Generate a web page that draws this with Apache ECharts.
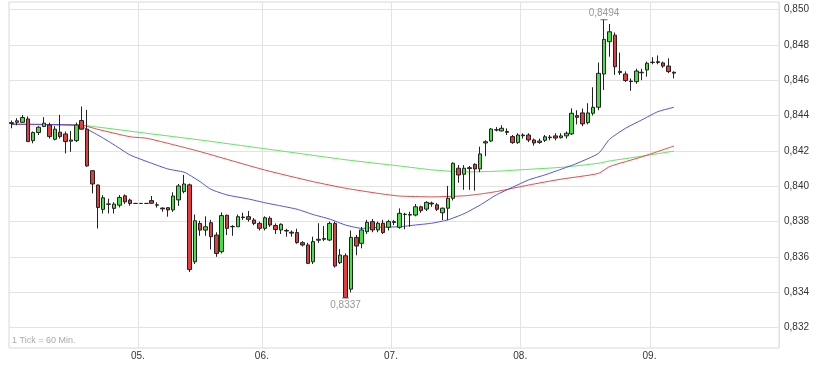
<!DOCTYPE html>
<html><head><meta charset="utf-8">
<script src="https://cdn.jsdelivr.net/npm/echarts@6/dist/echarts.min.js"></script>
<style>html,body{margin:0;padding:0;background:#fff}#c{width:818px;height:366px}</style>
</head><body><div id="c"></div>
<script>
const days = ['04.','05.','06.','07.','08.','09.'];
const slotsPerDay = [24,23,24,24,24,24];

const open = [
0.84355,0.84362,0.84362,0.84381,0.84258,0.84304,0.84338,0.84347,0.84266,0.84306,
0.84296,0.84255,0.84258,0.84372,0.84323,0.84088,0.84007,0.83869,0.83900,0.83875,
0.83893,0.83946,0.83922,0.83903,0.83903,0.83903,0.83919,0.83895,0.83877,0.83879,
0.83866,0.83923,0.83970,0.84008,0.83573,0.83790,0.83752,0.83794,0.83724,0.83630,
0.83836,0.83771,0.83771,0.83823,0.83828,0.83809,0.83790,0.83762,0.83819,0.83778,
0.83753,0.83750,0.83740,0.83738,0.83681,0.83668,0.83573,0.83695,0.83700,0.83696,
0.83790,0.83568,0.83607,0.83418,0.83711,0.83677,0.83743,0.83800,0.83753,0.83791,
0.83768,0.83795,0.83768,0.83842,0.83837,0.83837,0.83884,0.83871,0.83905,0.83895,
0.83850,0.83876,0.83932,0.84102,0.84068,0.84105,0.84124,0.84098,0.84245,0.84256,
0.84318,0.84313,0.84310,0.84281,0.84247,0.84290,0.84290,0.84262,0.84248,0.84260,
0.84278,0.84285,0.84275,0.84285,0.84296,0.84400,0.84415,0.84360,0.84413,0.84447,
0.84635,0.84818,0.84855,0.84650,0.84635,0.84595,0.84592,0.84645,0.84658,0.84700,
0.84700,0.84698,0.84680,0.84645
];
const close = [
0.84360,0.84370,0.84389,0.84253,0.84304,0.84334,0.84357,0.84281,0.84323,0.84281,
0.84253,0.84262,0.84347,0.84323,0.84115,0.84013,0.83880,0.83935,0.83898,0.83899,
0.83937,0.83912,0.83903,0.83903,0.83903,0.83903,0.83904,0.83893,0.83872,0.83866,
0.83945,0.84002,0.84013,0.83529,0.83805,0.83752,0.83771,0.83715,0.83620,0.83834,
0.83762,0.83773,0.83828,0.83826,0.83813,0.83790,0.83762,0.83822,0.83781,0.83755,
0.83785,0.83747,0.83735,0.83681,0.83668,0.83564,0.83687,0.83700,0.83705,0.83790,
0.83549,0.83611,0.83371,0.83711,0.83662,0.83753,0.83796,0.83753,0.83791,0.83738,
0.83800,0.83800,0.83847,0.83840,0.83840,0.83884,0.83862,0.83909,0.83900,0.83870,
0.83876,0.83932,0.84130,0.84064,0.84102,0.84100,0.84098,0.84183,0.84252,0.84324,
0.84320,0.84328,0.84305,0.84247,0.84290,0.84286,0.84262,0.84245,0.84256,0.84280,
0.84275,0.84273,0.84285,0.84300,0.84413,0.84390,0.84353,0.84415,0.84447,0.84639,
0.84831,0.84874,0.84676,0.84643,0.84598,0.84592,0.84652,0.84642,0.84696,0.84702,
0.84705,0.84680,0.84649,0.84640
];
const low = [
0.84328,0.84345,0.84360,0.84250,0.84243,0.84290,0.84335,0.84270,0.84260,0.84270,
0.84186,0.84195,0.84250,0.84320,0.84110,0.83960,0.83761,0.83846,0.83846,0.83846,
0.83880,0.83900,0.83890,0.83903,0.83903,0.83903,0.83900,0.83879,0.83856,0.83828,
0.83855,0.83889,0.83960,0.83515,0.83560,0.83720,0.83720,0.83643,0.83601,0.83620,
0.83724,0.83720,0.83770,0.83810,0.83800,0.83780,0.83750,0.83750,0.83770,0.83730,
0.83730,0.83715,0.83715,0.83675,0.83660,0.83560,0.83560,0.83680,0.83690,0.83690,
0.83540,0.83560,0.83368,0.83400,0.83610,0.83649,0.83730,0.83740,0.83740,0.83730,
0.83750,0.83780,0.83760,0.83757,0.83771,0.83830,0.83850,0.83860,0.83884,0.83860,
0.83809,0.83808,0.83920,0.84020,0.83980,0.83980,0.83975,0.84080,0.84170,0.84250,
0.84310,0.84310,0.84290,0.84240,0.84240,0.84270,0.84250,0.84230,0.84240,0.84250,
0.84260,0.84260,0.84270,0.84270,0.84290,0.84350,0.84340,0.84350,0.84400,0.84430,
0.84545,0.84733,0.84630,0.84630,0.84590,0.84540,0.84580,0.84600,0.84620,0.84690,
0.84690,0.84670,0.84640,0.84610
];
const high = [
0.84372,0.84385,0.84404,0.84395,0.84310,0.84340,0.84391,0.84360,0.84340,0.84404,
0.84310,0.84313,0.84360,0.84451,0.84432,0.84090,0.84010,0.83950,0.83930,0.83910,
0.83950,0.83954,0.83930,0.83903,0.83903,0.83903,0.83945,0.83909,0.83880,0.83880,
0.83966,0.84013,0.84064,0.84015,0.83840,0.83805,0.83830,0.83810,0.83740,0.83852,
0.83840,0.83780,0.83840,0.83850,0.83860,0.83820,0.83800,0.83830,0.83830,0.83790,
0.83790,0.83760,0.83750,0.83760,0.83690,0.83680,0.83715,0.83791,0.83775,0.83800,
0.83800,0.83645,0.83620,0.83750,0.83725,0.83770,0.83810,0.83815,0.83800,0.83810,
0.83810,0.83810,0.83875,0.83850,0.83856,0.83900,0.83890,0.83915,0.83913,0.83905,
0.83880,0.84002,0.84135,0.84120,0.84120,0.84115,0.84130,0.84224,0.84260,0.84330,
0.84335,0.84345,0.84327,0.84290,0.84300,0.84300,0.84300,0.84270,0.84270,0.84290,
0.84290,0.84300,0.84300,0.84310,0.84441,0.84430,0.84440,0.84470,0.84560,0.84700,
0.84942,0.84918,0.84870,0.84756,0.84650,0.84610,0.84665,0.84665,0.84705,0.84730,
0.84740,0.84705,0.84724,0.84650
];

// moving averages: [slot, value]
const maBlue = [[0,0.84352],[11,0.84347],[13,0.84337],[16,0.84290],[19,0.84235],[22,0.84177],[26,0.84130],[29,0.84098],[32,0.84080],[33,0.84064],[35,0.84026],[37,0.83983],[40,0.83951],[44,0.83928],[47,0.83907],[50,0.83889],[53,0.83870],[56,0.83840],[59,0.83815],[62,0.83781],[65,0.83762],[68,0.83768],[72,0.83771],[75,0.83781],[78,0.83791],[81,0.83810],[84,0.83845],[87,0.83894],[90,0.83951],[93,0.83994],[96,0.84036],[99,0.84064],[102,0.84096],[105,0.84130],[109,0.84187],[111,0.84265],[114,0.84328],[117,0.84375],[120,0.84422],[123,0.84447]];
const maRed = [[0,0.84350],[13,0.84345],[16,0.84322],[22,0.84280],[25,0.84272],[29,0.84243],[32,0.84220],[35,0.84196],[47,0.84092],[56,0.84026],[62,0.83989],[68,0.83960],[72,0.83945],[78,0.83940],[84,0.83946],[87,0.83956],[90,0.83970],[96,0.84007],[102,0.84040],[109,0.84073],[111,0.84111],[117,0.84166],[123,0.84228]];
const maGreen = [[0,0.84350],[13,0.84345],[16,0.84335],[25,0.84300],[35,0.84262],[50,0.84200],[62,0.84150],[72,0.84115],[78,0.84093],[84,0.84081],[90,0.84085],[96,0.84096],[102,0.84107],[109,0.84130],[111,0.84143],[117,0.84170],[123,0.84199]];

const yMin = 0.832, yMax = 0.850, yStep = 0.002;

// build categories (one per hourly slot)
const categories = [];
const dayStarts = [];
days.forEach((d, di) => {
  dayStarts.push(categories.length);
  for (let h = 0; h < slotsPerDay[di]; h++) categories.push(d + ' ' + h + ':00');
});
const N = categories.length;
const dayOf = {};
dayStarts.forEach((s, i) => { dayOf[s] = days[i]; });

const candles = categories.map((c, i) =>
  i < open.length ? [open[i], close[i], low[i], high[i]] : '-');

const shift = arr => arr.map(p => [p[0] + 0.5, p[1]]);
const fmt = (v, n) => v.toFixed(n).replace('.', ',');

const chart = echarts.init(document.getElementById('c'), null, {renderer: 'canvas'});
const FONT = 'Liberation Sans, Arial, sans-serif';
chart.setOption({
  animation: false,
  backgroundColor: '#fff',
  grid: [
    {left: 9, right: 39, top: 9.5, bottom: 38.3},
    {left: 9, right: 39, top: 2, bottom: 18, show: true, borderColor: '#d9d9d9', borderWidth: 1, backgroundColor: 'transparent'}
  ],
  xAxis: [
    {type: 'category', gridIndex: 0, data: categories, boundaryGap: true, show: false},
    {type: 'category', gridIndex: 1, data: categories, boundaryGap: true,
      axisLine: {show: false}, axisTick: {show: false},
      splitLine: {show: true, interval: (i) => i > 0 && dayOf[i] !== undefined, lineStyle: {color: '#e3e3e3', width: 1}},
      axisLabel: {interval: (i) => i > 0 && dayOf[i] !== undefined, formatter: (v, i) => dayOf[i] || '',
        fontSize: 10, color: '#333', fontFamily: FONT, margin: 3, padding: [0, 6, 0, 0]}},
    {type: 'value', gridIndex: 0, min: 0, max: N, show: false}
  ],
  yAxis: [
    {type: 'value', gridIndex: 0, position: 'right', min: yMin, max: yMax, interval: yStep,
      axisLine: {show: false}, axisTick: {show: false},
      splitLine: {lineStyle: {color: '#e3e3e3', width: 1}},
      axisLabel: {formatter: v => fmt(v, 3), fontSize: 10, color: '#333', fontFamily: FONT, margin: 5, padding: [3, 0, 0, 0]}},
    {type: 'value', gridIndex: 1, show: false, min: 0, max: 1}
  ],
  graphic: [
    {type: 'text', left: 12, top: 336, style: {text: '1 Tick = 60 Min.', fontSize: 9, fill: '#aaa', fontFamily: FONT}}
  ],
  series: [
    {type: 'line', xAxisIndex: 2, yAxisIndex: 0, data: shift(maGreen), showSymbol: false, smooth: 0.2, z: 1,
      lineStyle: {color: '#5ee65e', width: 1}},
    {type: 'line', xAxisIndex: 2, yAxisIndex: 0, data: shift(maRed), showSymbol: false, smooth: 0.2, z: 1,
      lineStyle: {color: '#e84848', width: 1}},
    {type: 'line', xAxisIndex: 2, yAxisIndex: 0, data: shift(maBlue), showSymbol: false, smooth: 0.2, z: 1,
      lineStyle: {color: '#5050e0', width: 1}},
    {type: 'candlestick', xAxisIndex: 0, yAxisIndex: 0, data: candles, barWidth: 4, z: 3,
      itemStyle: {color: '#46e046', color0: '#e43c3c', borderColor: '#222', borderColor0: '#222', borderWidth: 1},
      markPoint: {
        symbol: 'rect', symbolSize: [7, 1], itemStyle: {color: '#666'},
        data: [
          {type: 'max', valueDim: 'highest', label: {position: 'top', distance: 1}},
          {type: 'min', valueDim: 'lowest', label: {position: 'bottom', distance: 2}}
        ],
        label: {formatter: p => fmt(p.value, 4), fontSize: 10, color: '#999', fontFamily: FONT}
      }}
  ]
});
</script></body></html>
